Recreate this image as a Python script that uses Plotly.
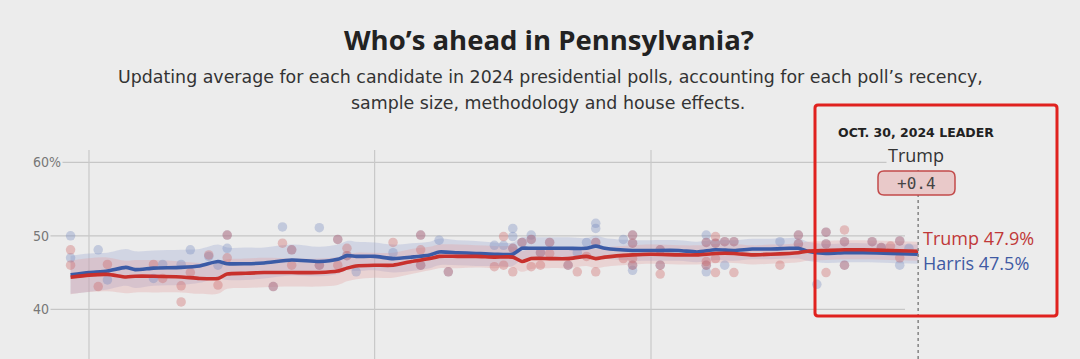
import plotly.graph_objects as go
import pandas as pd

# ---------------- data ----------------
avg_dates = ["2024-07-30","2024-08-01","2024-08-03","2024-08-05","2024-08-06","2024-08-08",
             "2024-08-11","2024-08-13","2024-08-15","2024-08-16","2024-08-18","2024-08-20",
             "2024-08-23","2024-08-26","2024-08-28","2024-08-29","2024-08-30","2024-09-01",
             "2024-09-03","2024-09-05","2024-09-07","2024-09-08","2024-09-10","2024-09-12",
             "2024-09-14","2024-09-16","2024-09-17","2024-09-18","2024-09-20","2024-09-22",
             "2024-09-24","2024-09-25","2024-09-26","2024-09-29","2024-10-01","2024-10-04",
             "2024-10-06","2024-10-08","2024-10-10","2024-10-12","2024-10-14","2024-10-16",
             "2024-10-17","2024-10-18","2024-10-20","2024-10-22","2024-10-24","2024-10-27",
             "2024-10-30"]
harris_avg = [44.7,45.0,45.2,45.7,45.4,45.6,45.7,45.9,46.5,46.2,46.2,46.3,46.7,46.5,46.8,47.3,
              47.2,47.2,46.9,47.1,47.4,47.8,47.7,47.6,47.5,47.5,48.3,48.3,48.3,48.3,48.3,48.6,
              48.3,48.0,48.0,48.0,47.8,48.1,48.0,48.2,48.2,48.3,48.3,47.9,47.6,47.7,47.7,47.6,47.5]
trump_avg = [44.35,44.65,44.75,44.4,44.5,44.5,44.4,44.2,44.2,44.8,44.9,45.0,45.0,45.0,45.2,45.6,
             45.9,46.0,46.0,46.5,46.9,47.2,47.2,47.2,47.1,47.1,46.5,46.9,46.9,46.9,47.2,46.9,
             47.1,47.4,47.5,47.4,47.4,47.6,47.6,47.4,47.5,47.6,47.7,47.9,48.0,48.1,48.1,48.0,47.9]
harris_band = [2.6,2.6,2.5,2.5,2.5,2.4,2.4,2.3,2.3,2.2,2.2,2.1,2.1,2.0,2.0,2.0,2.0,1.9,1.9,1.9,
               1.8,1.8,1.7,1.7,1.6,1.6,1.5,1.5,1.5,1.5,1.4,1.4,1.4,1.4,1.4,1.4,1.4,1.4,1.4,1.4,
               1.4,1.4,1.4,1.3,1.3,1.3,1.3,1.3,1.3]
trump_band = [2.3,2.3,2.3,2.2,2.2,2.2,2.1,2.1,2.1,2.0,2.0,2.0,1.9,1.9,1.9,1.8,1.8,1.7,1.7,1.7,
              1.6,1.6,1.6,1.5,1.5,1.4,1.4,1.4,1.3,1.3,1.3,1.3,1.3,1.3,1.3,1.3,1.3,1.3,1.3,1.3,
              1.3,1.3,1.3,1.3,1.3,1.3,1.3,1.3,1.3]

harris_poll_dates = ["2024-07-30","2024-07-30","2024-08-02","2024-08-03","2024-08-08","2024-08-09",
    "2024-08-11","2024-08-12","2024-08-14","2024-08-15","2024-08-16","2024-08-16","2024-08-21",
    "2024-08-22","2024-08-23","2024-08-26","2024-08-26","2024-08-28","2024-08-29","2024-08-30",
    "2024-09-03","2024-09-06","2024-09-06","2024-09-08","2024-09-09","2024-09-14","2024-09-15",
    "2024-09-16","2024-09-16","2024-09-16","2024-09-17","2024-09-18","2024-09-18","2024-09-19",
    "2024-09-20","2024-09-22","2024-09-23","2024-09-24","2024-09-25","2024-09-25","2024-09-25",
    "2024-09-28","2024-09-29","2024-09-29","2024-09-29","2024-09-29","2024-10-02","2024-10-02",
    "2024-10-07","2024-10-07","2024-10-07","2024-10-07","2024-10-08","2024-10-09","2024-10-09",
    "2024-10-10","2024-10-15","2024-10-17","2024-10-17","2024-10-19","2024-10-20","2024-10-20",
    "2024-10-22","2024-10-22","2024-10-25","2024-10-26","2024-10-28","2024-10-28","2024-10-29"]
harris_polls = [50.0,47.0,48.1,44.0,44.2,46.1,46.1,48.1,47.2,46.0,48.3,50.1,43.1,51.2,48.1,51.1,
    46.0,49.5,47.3,45.1,47.7,50.1,46.0,49.4,45.1,48.7,48.7,51.0,49.9,48.3,49.1,50.1,49.5,47.7,
    49.1,46.0,47.7,49.1,51.7,51.0,49.1,49.5,50.1,49.0,46.0,45.3,48.1,46.0,50.1,49.1,46.0,45.1,
    49.0,49.2,46.0,49.2,49.2,50.1,48.9,43.4,50.5,48.9,49.2,46.0,49.2,48.4,49.3,46.0,48.3]

trump_poll_dates = ["2024-07-30","2024-07-30","2024-08-02","2024-08-03","2024-08-08","2024-08-09",
    "2024-08-11","2024-08-11","2024-08-12","2024-08-14","2024-08-15","2024-08-16","2024-08-16",
    "2024-08-21","2024-08-22","2024-08-23","2024-08-23","2024-08-26","2024-08-28","2024-08-28",
    "2024-08-29","2024-08-29","2024-09-03","2024-09-06","2024-09-06","2024-09-06","2024-09-09",
    "2024-09-14","2024-09-15","2024-09-15","2024-09-16","2024-09-16","2024-09-17","2024-09-18",
    "2024-09-18","2024-09-19","2024-09-19","2024-09-20","2024-09-20","2024-09-22","2024-09-23",
    "2024-09-24","2024-09-25","2024-09-25","2024-09-28","2024-09-29","2024-09-29","2024-09-29",
    "2024-09-29","2024-10-02","2024-10-02","2024-10-02","2024-10-07","2024-10-07","2024-10-07",
    "2024-10-08","2024-10-08","2024-10-08","2024-10-08","2024-10-09","2024-10-10","2024-10-10",
    "2024-10-15","2024-10-17","2024-10-17","2024-10-20","2024-10-20","2024-10-20","2024-10-22",
    "2024-10-22","2024-10-22","2024-10-25","2024-10-26","2024-10-27","2024-10-28","2024-10-28"]
trump_polls = [48.1,46.0,43.1,46.1,46.1,44.2,43.2,41.0,45.0,47.4,43.3,50.1,47.0,43.1,49.0,48.1,
    46.0,46.0,49.5,46.0,48.3,47.3,49.1,50.1,48.1,46.0,45.1,45.8,49.9,46.0,48.3,45.1,49.1,49.5,
    45.8,47.7,46.0,49.1,47.6,46.0,45.1,47.2,49.1,45.1,46.9,50.1,49.0,46.9,46.0,48.1,46.0,44.8,
    49.1,46.5,46.0,49.9,49.0,46.9,45.0,49.2,49.2,45.0,46.0,50.1,48.9,50.5,48.9,45.0,50.8,49.2,
    46.0,49.2,48.4,48.6,49.3,47.0]

y_ticks = [40, 50, 60]
y_tick_labels = ["40", "50", "60%"]
month_lines = ["2024-08-01", "2024-09-01", "2024-10-01"]
leader_date = "2024-10-30"
leader_name = "Trump"
leader_margin = "+0.4"
final_trump = 47.9
final_harris = 47.5

# ---------------- layout helpers ----------------
W, H = 1080, 359
BG = "#ececec"
aug1 = pd.Timestamp("2024-08-01")
ppd = 9.213  # pixels per day
x_left = aug1 - pd.Timedelta(days=89 / ppd)
x_right = aug1 + pd.Timedelta(days=(W - 89) / ppd)
y_lo = 40 - (H - 309.3) / 7.35
y_hi = 60 + 162.3 / 7.35

def px(x):
    return x / W

def py(y):
    return (H - y) / H

def rrect(x0, y0, x1, y1, r):
    pts = [
        ("M", (x0 + r, y0)), ("L", (x1 - r, y0)), ("Q", (x1, y0), (x1, y0 + r)),
        ("L", (x1, y1 - r)), ("Q", (x1, y1), (x1 - r, y1)), ("L", (x0 + r, y1)),
        ("Q", (x0, y1), (x0, y1 - r)), ("L", (x0, y0 + r)), ("Q", (x0, y0), (x0 + r, y0)),
    ]
    s = ""
    for p in pts:
        s += p[0] + " " + " ".join(f"{px(a):.5f},{py(b):.5f}" for a, b in p[1:]) + " "
    return s + "Z"

H_LINE = "#3b5ba6"
T_LINE = "#c8302c"
SANS = "Open Sans, Liberation Sans, sans-serif"
WIDE = "DejaVu Sans, Open Sans, sans-serif"

fig = go.Figure()

# bands
h_up = [v + w for v, w in zip(harris_avg, harris_band)]
h_lo = [v - w for v, w in zip(harris_avg, harris_band)]
t_up = [v + w for v, w in zip(trump_avg, trump_band)]
t_lo = [v - w for v, w in zip(trump_avg, trump_band)]

fig.add_trace(go.Scatter(x=avg_dates, y=h_up, mode="lines", line=dict(width=0, shape="spline"),
                         hoverinfo="skip", showlegend=False))
fig.add_trace(go.Scatter(x=avg_dates, y=h_lo, mode="lines", line=dict(width=0, shape="spline"),
                         fill="tonexty", fillcolor="rgba(160,172,212,0.35)",
                         hoverinfo="skip", showlegend=False))
fig.add_trace(go.Scatter(x=avg_dates, y=t_up, mode="lines", line=dict(width=0, shape="spline"),
                         hoverinfo="skip", showlegend=False))
fig.add_trace(go.Scatter(x=avg_dates, y=t_lo, mode="lines", line=dict(width=0, shape="spline"),
                         fill="tonexty", fillcolor="rgba(228,160,160,0.32)",
                         hoverinfo="skip", showlegend=False))

# poll dots
fig.add_trace(go.Scatter(x=harris_poll_dates, y=harris_polls, mode="markers",
                         marker=dict(size=9.5, color="rgba(120,138,192,0.36)", line=dict(width=0)),
                         name="Harris polls", showlegend=False))
fig.add_trace(go.Scatter(x=trump_poll_dates, y=trump_polls, mode="markers",
                         marker=dict(size=9.5, color="rgba(205,100,100,0.36)", line=dict(width=0)),
                         name="Trump polls", showlegend=False))

# averages
fig.add_trace(go.Scatter(x=avg_dates, y=harris_avg, mode="lines",
                         line=dict(color=H_LINE, width=3.6, shape="spline", smoothing=0.6),
                         name="Harris", showlegend=False))
fig.add_trace(go.Scatter(x=avg_dates, y=trump_avg, mode="lines",
                         line=dict(color=T_LINE, width=3.6, shape="spline", smoothing=0.6),
                         name="Trump", showlegend=False))

shapes = []
for v in y_ticks:
    shapes.append(dict(type="line", xref="paper", yref="y", x0=px(33), x1=px(905), y0=v, y1=v,
                       line=dict(color="#c6c6c6", width=1.2), layer="below"))
for d in month_lines:
    shapes.append(dict(type="line", xref="x", yref="paper", x0=d, x1=d, y0=0, y1=py(150),
                       line=dict(color="#c9c9c9", width=1.2), layer="below"))
# today dotted line
shapes.append(dict(type="line", xref="x", yref="paper", x0=leader_date, x1=leader_date,
                   y0=0, y1=py(167), line=dict(color="#8a8a8a", width=1.6, dash="dot"),
                   layer="above"))
# margin box
shapes.append(dict(type="path", xref="paper", yref="paper", path=rrect(878, 171, 955, 195, 6),
                   fillcolor="#e9c9c9", line=dict(color="#c24a4a", width=1.5), layer="above"))
# red highlight box
shapes.append(dict(type="path", xref="paper", yref="paper", path=rrect(815, 105, 1057, 316, 3),
                   fillcolor="rgba(0,0,0,0)", line=dict(color="#e0221f", width=3), layer="above"))

ann = []
for v, t in zip(y_ticks, y_tick_labels):
    ann.append(dict(xref="paper", yref="y", x=px(31), y=v, text=t, showarrow=False,
                    xanchor="left", yanchor="middle", bgcolor=BG, borderpad=1,
                    font=dict(family="Liberation Sans Narrow, DejaVu Sans Condensed, sans-serif",
                              size=14, color="#777777")))
ann.append(dict(xref="paper", yref="paper", x=px(549), y=py(40), text="<b>Who’s ahead in Pennsylvania?</b>",
                showarrow=False, xanchor="center", yanchor="middle",
                font=dict(family=SANS, size=27.5, color="#222222")))
ann.append(dict(xref="paper", yref="paper", x=px(550), y=py(77),
                text="Updating average for each candidate in 2024 presidential polls, accounting for each poll’s recency,",
                showarrow=False, xanchor="center", yanchor="middle",
                font=dict(family=WIDE, size=17.4, color="#333333")))
ann.append(dict(xref="paper", yref="paper", x=px(548), y=py(103),
                text="sample size, methodology and house effects.",
                showarrow=False, xanchor="center", yanchor="middle",
                font=dict(family=WIDE, size=17.4, color="#333333")))
ann.append(dict(xref="paper", yref="paper", x=px(916), y=py(133), text="<b>OCT. 30, 2024 LEADER</b>",
                showarrow=False, xanchor="center", yanchor="middle",
                font=dict(family=WIDE, size=12.5, color="#222222")))
ann.append(dict(xref="paper", yref="paper", x=px(916), y=py(155), text=leader_name,
                showarrow=False, xanchor="center", yanchor="middle", bgcolor=BG,
                font=dict(family=SANS, size=18, color="#333333")))
ann.append(dict(xref="paper", yref="paper", x=px(916.5), y=py(183), text=leader_margin,
                showarrow=False, xanchor="center", yanchor="middle",
                font=dict(family="DejaVu Sans Mono, monospace", size=16, color="#444444")))
ann.append(dict(xref="x", yref="paper", x=leader_date, y=py(238), xshift=3,
                text=f"Trump {final_trump}%", showarrow=False, xanchor="left", yanchor="middle",
                font=dict(family=SANS, size=18, color="#c03838")))
ann.append(dict(xref="x", yref="paper", x=leader_date, y=py(263), xshift=3,
                text=f"Harris {final_harris}%", showarrow=False, xanchor="left", yanchor="middle",
                font=dict(family=SANS, size=18, color="#3f5aa3")))

fig.update_layout(
    width=W, height=H, margin=dict(l=0, r=0, t=0, b=0),
    paper_bgcolor=BG, plot_bgcolor=BG,
    xaxis=dict(range=[x_left, x_right], visible=False, fixedrange=True),
    yaxis=dict(range=[y_lo, y_hi], visible=False, fixedrange=True),
    shapes=shapes, annotations=ann, showlegend=False,
)

fig.write_html("out.html", config={"displayModeBar": False},
               post_script="document.body.style.margin='0';document.body.style.background='#ececec';"
                           "document.body.style.overflow='hidden';")
